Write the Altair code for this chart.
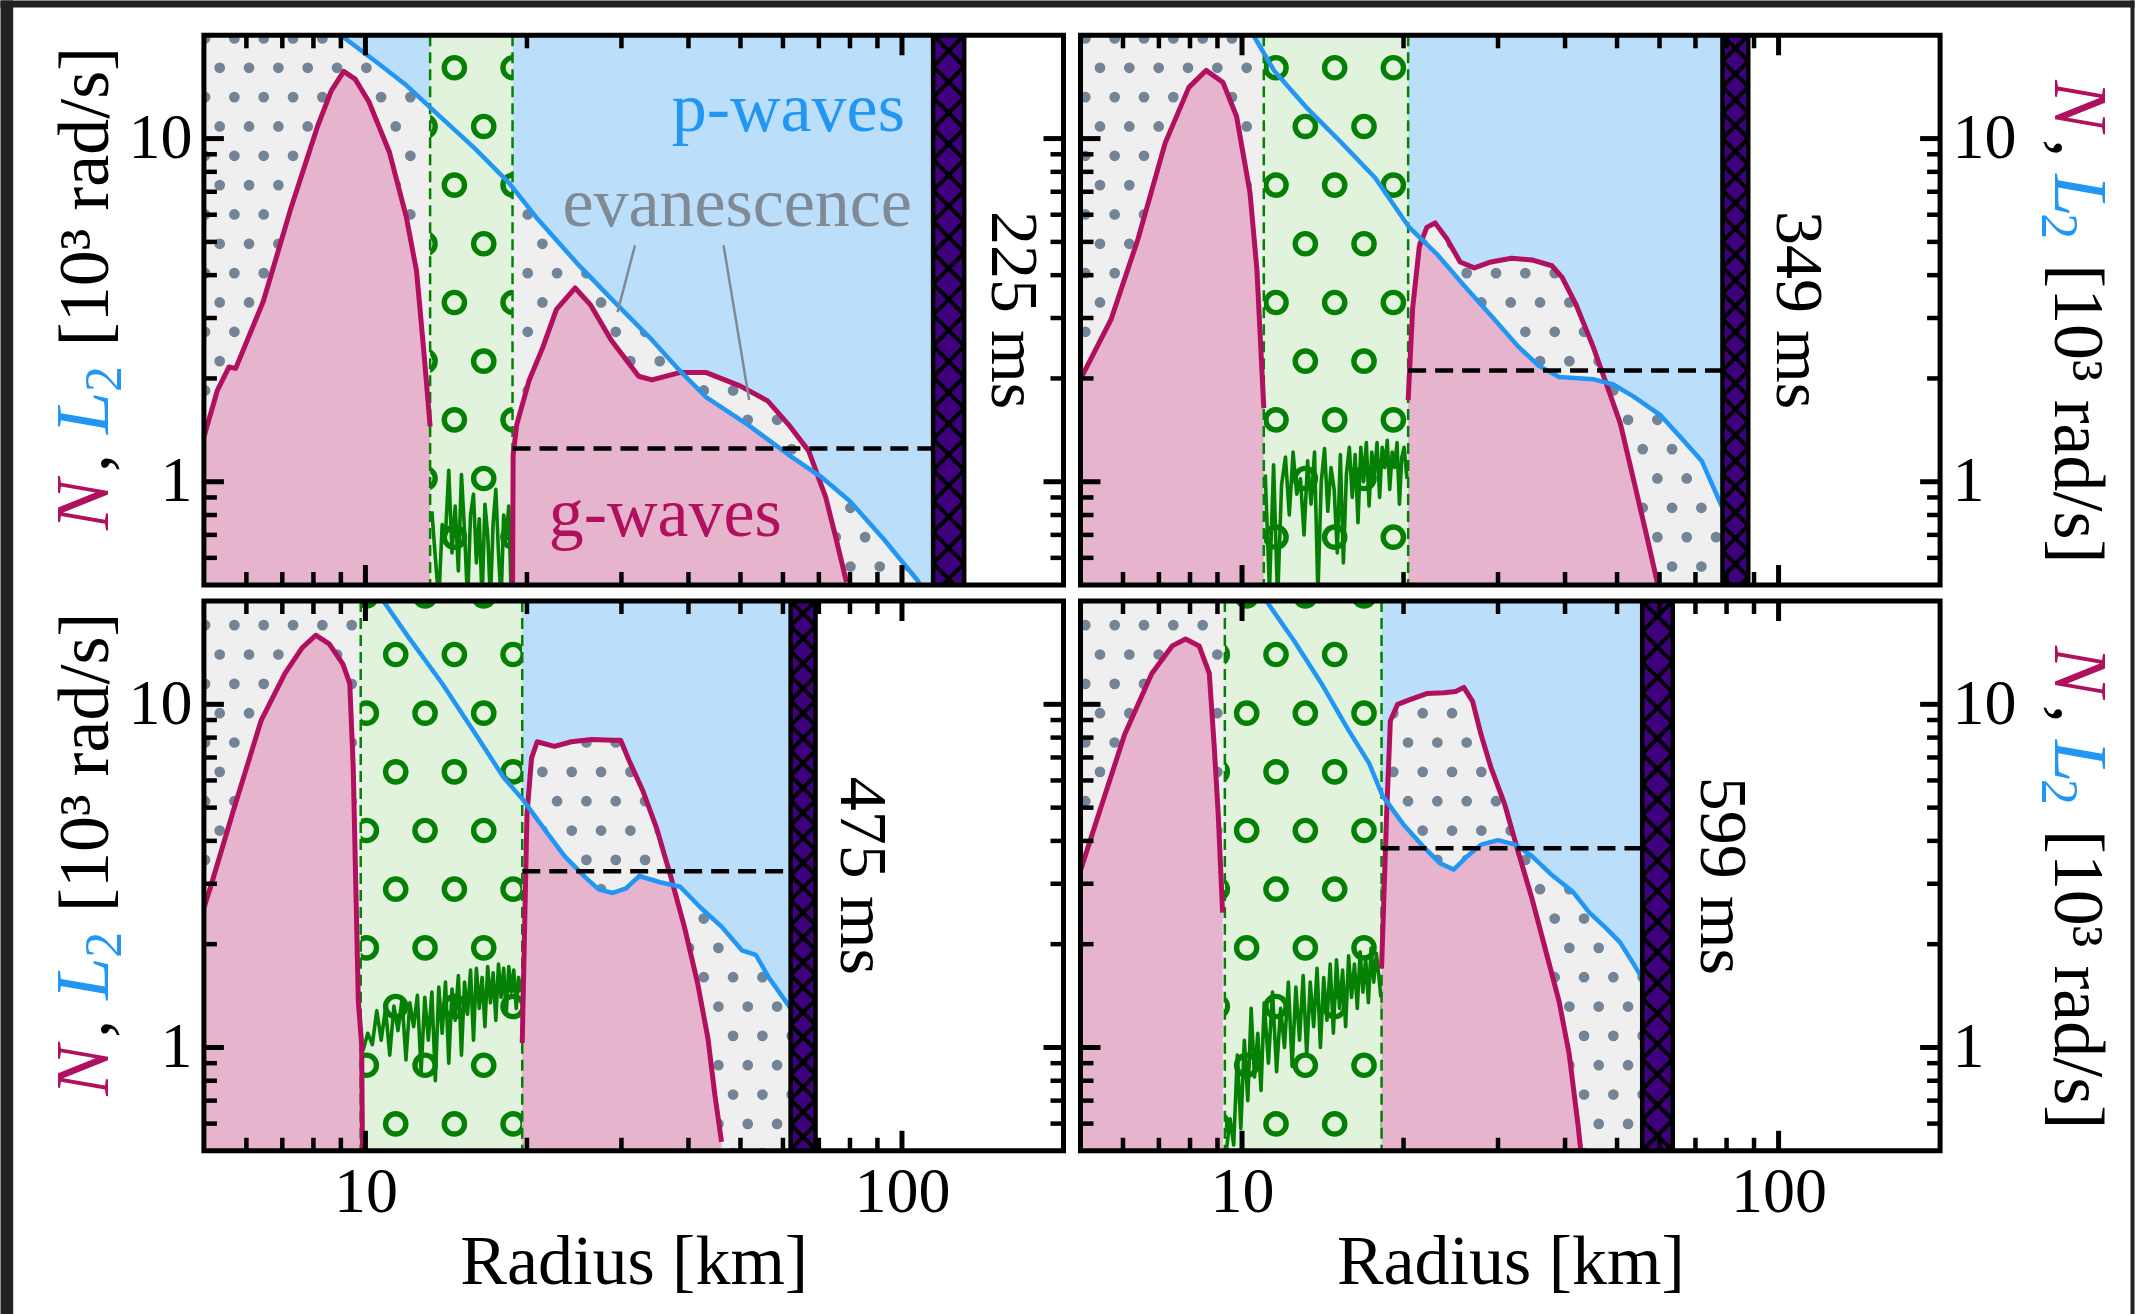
import altair as alt
import numpy as np
import pandas as pd

alt.data_transformers.disable_max_rows()

FONT = "Liberation Serif"
W, H = 860, 550
X_MIN, X_MAX = 5.0, 200.0
Y_MIN, Y_MAX = 0.5, 20.0
LX0, LX1 = np.log10(X_MIN), np.log10(X_MAX)
LY0, LY1 = np.log10(Y_MIN), np.log10(Y_MAX)
PANEL_ORIGIN = [(203.5, 34.8), (1080.3, 34.8), (203.5, 600.8), (1080.3, 600.8)]

C_N = "#b0105e"
C_L = "#2196f3"
C_PINK = "#e6b4cc"
C_BLUE = "#bbdefb"
C_GRAY = "#efefef"
C_DOT = "#738497"
C_GREEN = "#058005"
C_GREENFILL = "#e2f3dd"
C_SHOCK = "#3f007d"
C_EVA = "#7f8a94"

# ---------------- data ----------------
time_labels = ["225 ms", "349 ms", "475 ms", "599 ms"]
time_x = [160, 108, 84, 78]
band_left = [13.2, 10.98, 9.80, 9.29]
band_right = [18.8, 20.4, 19.6, 18.2]
shock_left = [114.3, 78.6, 62.0, 55.7]
shock_right = [130.6, 87.8, 69.0, 63.5]
dash_level = [1.25, 2.11, 3.26, 3.81]

# Brunt-Vaisala frequency N, inner segment (left of convective band)
n_in_x = [
    [5.0, 5.3, 5.57, 5.73, 6.45, 7.25, 8.15, 8.64, 9.11, 9.57, 10.15, 11.08, 11.92, 12.45, 12.83, 13.2],
    [5.0, 5.70, 6.40, 7.19, 7.96, 8.57, 9.21, 9.77, 10.35, 10.66, 10.98],
    [5.0, 5.16, 5.68, 6.39, 7.08, 7.62, 8.08, 8.56, 9.08, 9.35, 9.49, 9.70, 9.84, 9.88],
    [5.0, 5.37, 6.04, 6.79, 7.41, 7.85, 8.32, 8.69, 8.87, 9.03, 9.20],
]
n_in_y = [
    [1.35, 1.85, 2.16, 2.14, 3.35, 6.21, 10.9, 13.8, 15.7, 14.9, 12.8, 9.14, 5.9, 4.12, 2.46, 1.45],
    [1.99, 2.97, 5.10, 9.70, 14.1, 15.8, 14.6, 11.6, 6.94, 4.15, 1.64],
    [2.55, 2.98, 4.93, 8.96, 12.3, 14.6, 15.9, 15.0, 13.1, 11.5, 6.55, 1.36, 1.02, 0.45],
    [3.28, 4.63, 8.15, 12.3, 14.8, 15.5, 14.8, 12.3, 7.66, 4.78, 2.47],
]
# N, outer segment (right of convective band)
n_out_x = [
    [18.8, 18.85, 19.15, 20.2, 21.4, 22.7, 24.6, 26.3, 28.7, 32.3, 34.2, 38.5, 43.2, 50.0, 56.2, 61.4, 67.0, 72.1, 75.4, 78.8],
    [20.4, 20.8, 21.4, 22.1, 22.9, 24.1, 25.5, 27.1, 29.1, 31.8, 34.7, 37.8, 39.5, 41.9, 45.1, 47.8, 50.7, 53.7, 56.9, 59.5],
    [19.6, 20.0, 20.4, 20.9, 22.5, 24.2, 26.4, 28.9, 29.9, 31.0, 32.9, 34.9, 37.0, 39.3, 41.6, 43.5, 44.8, 46.1],
    [18.2, 18.6, 18.9, 19.5, 20.5, 22.1, 23.8, 25.0, 25.9, 26.9, 27.9, 29.1, 30.9, 32.7, 34.7, 36.8, 39.0, 40.7, 42.3, 42.8],
]
n_out_y = [
    [0.45, 1.2, 1.47, 1.98, 2.46, 3.18, 3.67, 3.27, 2.59, 2.03, 1.98, 2.08, 2.08, 1.90, 1.72, 1.47, 1.23, 0.90, 0.68, 0.51],
    [1.73, 3.21, 4.84, 5.51, 5.68, 5.10, 4.37, 4.20, 4.37, 4.48, 4.43, 4.26, 3.94, 3.29, 2.48, 1.92, 1.48, 1.01, 0.686, 0.504],
    [1.03, 4.78, 6.97, 7.78, 7.54, 7.78, 7.90, 7.86, 7.86, 6.86, 5.59, 4.35, 3.18, 2.25, 1.54, 1.06, 0.727, 0.531],
    [1.70, 4.78, 8.96, 10.0, 10.3, 10.75, 10.8, 10.9, 11.2, 10.2, 8.15, 6.55, 5.09, 3.72, 2.72, 1.92, 1.36, 0.96, 0.593, 0.50],
]
# Lamb frequency L2
l2_x = [
    [9.0, 10.6, 11.92, 13.0, 15.97, 18.5, 20.8, 24.8, 29.5, 34.2, 38.5, 43.2, 51.5, 61.4, 71.1, 79.9, 92.5, 107.2, 112.0],
    [10.5, 11.47, 13.26, 15.35, 17.7, 20.5, 23.1, 25.9, 29.1, 32.7, 35.7, 39.0, 45.1, 49.2, 53.7, 60.3, 65.9, 71.9, 78.6],
    [10.8, 11.99, 13.9, 16.07, 18.06, 19.7, 21.5, 23.5, 25.7, 27.2, 28.9, 30.6, 32.4, 35.4, 38.6, 42.2, 46.1, 50.3, 53.4, 56.6, 62.0],
    [11.1, 12.51, 14.06, 15.79, 17.24, 18.27, 19.94, 21.8, 23.4, 24.8, 26.3, 27.9, 30.0, 32.3, 34.7, 37.8, 41.3, 44.4, 47.8, 50.7, 53.7, 55.7],
]
l2_y = [
    [20.0, 16.5, 14.3, 12.6, 9.38, 7.44, 5.9, 4.33, 3.27, 2.59, 2.11, 1.76, 1.47, 1.20, 1.026, 0.879, 0.68, 0.513, 0.45],
    [20.0, 15.8, 12.2, 9.70, 7.69, 5.51, 4.60, 3.74, 3.05, 2.48, 2.18, 2.02, 1.99, 1.92, 1.77, 1.56, 1.34, 1.15, 0.84],
    [20.0, 15.8, 11.5, 8.15, 6.15, 5.25, 4.35, 3.61, 3.13, 2.89, 2.82, 2.91, 3.16, 3.03, 2.94, 2.55, 2.25, 1.92, 1.86, 1.59, 1.30],
    [20.0, 15.3, 11.5, 8.41, 6.75, 5.42, 4.49, 3.84, 3.44, 3.30, 3.61, 3.90, 4.02, 3.90, 3.61, 3.18, 2.85, 2.47, 2.22, 2.02, 1.75, 1.59],
]
# noisy curve inside the convective band
conv_x = [
    [13.3, 13.5, 13.7, 13.9, 14.1, 14.3, 14.5, 14.7, 14.9, 15.1, 15.3, 15.5, 15.7, 15.9, 16.1, 16.3, 16.5, 16.7, 16.9, 17.1, 17.3, 17.5, 17.7, 17.9, 18.1, 18.3, 18.5, 18.7],
    [11.05, 11.25, 11.45, 11.65, 11.85, 12.05, 12.25, 12.45, 12.65, 12.85, 13.05, 13.25, 13.45, 13.65, 13.85, 14.05, 14.25, 14.45, 14.65, 14.85, 15.05, 15.25, 15.45, 15.65, 15.85, 16.05, 16.25, 16.45, 16.65, 16.85, 17.05, 17.25, 17.45, 17.65, 17.85, 18.05, 18.25, 18.45, 18.65, 18.85, 19.05, 19.25, 19.45, 19.65, 19.85, 20.05, 20.3],
    [9.9, 10.1, 10.3, 10.5, 10.7, 10.9, 11.1, 11.3, 11.5, 11.7, 11.9, 12.1, 12.3, 12.5, 12.7, 12.9, 13.1, 13.3, 13.5, 13.7, 13.9, 14.1, 14.3, 14.5, 14.7, 14.9, 15.1, 15.3, 15.5, 15.7, 15.9, 16.1, 16.3, 16.5, 16.7, 16.9, 17.1, 17.3, 17.5, 17.7, 17.9, 18.1, 18.3, 18.5, 18.7, 18.9, 19.1, 19.3, 19.5],
    [9.35, 9.5, 9.65, 9.8, 9.95, 10.1, 10.25, 10.4, 10.55, 10.7, 10.85, 11.0, 11.2, 11.4, 11.6, 11.8, 12.0, 12.2, 12.4, 12.6, 12.8, 13.0, 13.2, 13.4, 13.6, 13.8, 14.0, 14.2, 14.4, 14.6, 14.8, 15.0, 15.2, 15.4, 15.6, 15.8, 16.0, 16.2, 16.4, 16.6, 16.8, 17.0, 17.2, 17.4, 17.6, 17.8, 18.0, 18.15],
]
conv_y = [
    [0.82, 0.60, 0.45, 0.75, 0.70, 1.08, 0.62, 0.85, 0.55, 1.05, 0.72, 0.45, 0.80, 0.92, 0.58, 0.78, 0.45, 0.86, 0.70, 0.45, 0.76, 0.95, 0.62, 0.45, 0.80, 0.68, 0.85, 0.45],
    [1.05, 0.48, 1.12, 0.45, 0.98, 1.18, 0.80, 1.22, 0.92, 1.02, 0.70, 1.15, 0.86, 1.22, 0.47, 1.00, 1.25, 0.82, 1.10, 0.95, 0.62, 1.20, 0.58, 1.05, 1.26, 0.90, 1.20, 0.76, 1.26, 1.00, 1.30, 0.85, 1.22, 1.05, 1.30, 0.90, 1.26, 1.10, 1.32, 0.95, 1.22, 1.10, 1.30, 0.86, 1.18, 1.26, 1.02],
    [0.98, 1.10, 1.02, 1.28, 1.05, 1.30, 0.95, 1.32, 1.12, 1.38, 0.92, 1.35, 1.15, 1.42, 0.85, 1.40, 1.05, 1.45, 0.80, 1.50, 1.10, 1.55, 0.90, 1.48, 1.20, 1.62, 0.95, 1.55, 1.25, 1.68, 1.05, 1.70, 1.30, 1.60, 1.15, 1.72, 1.35, 1.65, 1.20, 1.75, 1.40, 1.70, 1.25, 1.72, 1.45, 1.68, 1.30, 1.60, 1.45],
    [0.50, 0.62, 0.52, 0.95, 0.58, 1.05, 0.70, 1.30, 0.82, 1.10, 0.75, 1.35, 0.90, 1.45, 0.85, 1.30, 1.00, 1.55, 0.88, 1.50, 1.05, 1.62, 0.95, 1.55, 1.15, 1.70, 1.00, 1.60, 1.20, 1.75, 1.10, 1.80, 1.30, 1.68, 1.15, 1.85, 1.40, 1.75, 1.30, 1.90, 1.45, 1.82, 1.35, 1.95, 1.55, 1.88, 1.60, 1.40],
]

x_major = [10, 100]
x_minor = [6, 7, 8, 9, 20, 30, 40, 50, 60, 70, 80, 90]
y_major = [1, 10]
y_minor = [0.6, 0.7, 0.8, 0.9, 2, 3, 4, 5, 6, 7, 8, 9]

# annotations of the first panel
ann_text = ["p-waves", "evanescence", "g-waves"]
ann_x = [61.4, 49.3, 36.2]
ann_y = [10.55, 5.55, 0.695]
ann_color = [C_L, C_EVA, C_N]
pointer_x0 = [31.8, 46.5]
pointer_y0 = [4.89, 4.89]
pointer_x1 = [29.5, 51.9]
pointer_y1 = [3.12, 1.73]

# hatch texture (matplotlib-like lattice, global pixel anchor)
HATCH_ORIGIN = (454.1, 67.3)
DOT_STEP = 29.35
CIRC_STEP = 58.7


def px_to_x(px):
    return 10 ** (LX0 + np.asarray(px) / W * (LX1 - LX0))


def px_to_y(py):
    return 10 ** (LY1 - np.asarray(py) / H * (LY1 - LY0))


def x_to_px(x):
    return (np.log10(x) - LX0) / (LX1 - LX0) * W


def lattice(step, ox, oy):
    gx0, gy0 = HATCH_ORIGIN
    pts = []
    j0 = int(np.floor((oy - 30 - gy0) / step))
    j1 = int(np.ceil((oy + H + 30 - gy0) / step))
    for j in range(j0, j1 + 1):
        off = step / 2 if j % 2 else 0.0
        gy = gy0 + j * step
        i0 = int(np.floor((ox - 30 - gx0 - off) / step))
        i1 = int(np.ceil((ox + W + 30 - gx0 - off) / step))
        for i in range(i0, i1 + 1):
            pts.append((gx0 + off + i * step - ox, gy - oy))
    return np.array(pts)


def bounds(x0, x1, nx, ny, lx, ly, n_left, n_right, l_left, l_right):
    extra = [v for v in list(nx) + list(lx) if x0 < v < x1]
    grid = np.unique(np.concatenate([np.geomspace(x0, x1, 500), extra]))
    g = np.log10(grid)
    nv = np.interp(g, np.log10(nx), np.log10(ny), left=n_left, right=n_right)
    lv = np.interp(g, np.log10(lx), np.log10(ly), left=l_left, right=l_right)
    lo = np.clip(np.minimum(nv, lv), LY0, LY1)
    hi = np.clip(np.maximum(nv, lv), LY0, LY1)
    return pd.DataFrame({"x": grid, "lo": 10 ** lo, "hi": 10 ** hi,
                         "bot": Y_MIN, "top": Y_MAX})


one = pd.DataFrame({"a": [0]})
xscale = alt.Scale(type="log", domain=[X_MIN, X_MAX], nice=False)
yscale = alt.Scale(type="log", domain=[Y_MIN, Y_MAX], nice=False)

panels = []
for p in range(4):
    ox, oy = PANEL_ORIGIN[p]
    is_left = p % 2 == 0
    is_bottom = p >= 2
    if is_bottom:
        xaxis = alt.Axis(values=x_major, format="d", title="Radius [km]",
                         labelFont=FONT, labelFontSize=64, labelColor="black",
                         labelPadding=10, ticks=False, tickSize=0, domain=False,
                         grid=False, labelFlush=False, titleFont=FONT,
                         titleFontSize=70, titleFontWeight="normal",
                         titleColor="black", titlePadding=4)
    else:
        xaxis = None
    yaxis = alt.Axis(orient="left" if is_left else "right", values=y_major,
                     format="d", title=None, labelFont=FONT, labelFontSize=64,
                     labelColor="black", labelPadding=12, ticks=False,
                     tickSize=0, domain=False, grid=False, labelFlush=False)

    def X(f):
        return alt.X(f, type="quantitative", scale=xscale, axis=xaxis)

    def Y(f):
        return alt.Y(f, type="quantitative", scale=yscale, axis=yaxis)

    bl, br = band_left[p], band_right[p]
    sl, sr = shock_left[p], shock_right[p]
    layers = []

    if p == 0:
        for (a, b, c, d) in [(-ox, -ox + 12.7, -oy, 1314 - oy),
                             (-ox, 2135 - ox, -oy, 7 - oy),
                             (2131 - ox, 2135 - ox, -oy, 1314 - oy)]:
            layers.append(alt.Chart(one).mark_rect(color="#212121").encode(
                x=alt.value(a), x2=alt.value(b), y=alt.value(c), y2=alt.value(d)))

    # convective band
    band_df = pd.DataFrame({"x0": [bl], "x1": [br]})
    layers.append(alt.Chart(band_df).mark_rect(color=C_GREENFILL).encode(
        x=X("x0"), x2=alt.X2("x1"), y=alt.value(0), y2=alt.value(H)))
    cp = lattice(CIRC_STEP, ox, oy)
    blp, brp = x_to_px(bl), x_to_px(br)
    cp = cp[(cp[:, 0] > blp - 14) & (cp[:, 0] < brp + 14)]
    circ_df = pd.DataFrame({"x": px_to_x(cp[:, 0]), "y": px_to_y(cp[:, 1])})
    layers.append(alt.Chart(circ_df).mark_point(
        shape="circle", filled=False, size=410, strokeWidth=5.4,
        color=C_GREEN, opacity=1, clip=True).encode(x=X("x"), y=Y("y")))

    # evanescent (grey, dotted) background
    gray_df = pd.DataFrame({"x0": [X_MIN, br], "x1": [bl, sl]})
    layers.append(alt.Chart(gray_df).mark_rect(color=C_GRAY).encode(
        x=X("x0"), x2=alt.X2("x1"), y=alt.value(0), y2=alt.value(H)))
    dp = lattice(DOT_STEP, ox, oy)
    slp = x_to_px(sl)
    r = 5.5
    keep = (dp[:, 0] < slp + 6) & ((dp[:, 0] < blp - r) | (dp[:, 0] > brp + r))
    dp = dp[keep]
    dot_df = pd.DataFrame({"x": px_to_x(dp[:, 0]), "y": px_to_y(dp[:, 1])})
    layers.append(alt.Chart(dot_df).mark_circle(
        size=115, color=C_DOT, opacity=1, clip=True).encode(x=X("x"), y=Y("y")))

    # g-wave (pink) and p-wave (blue) regions
    BIG = 10.0
    seg_in = bounds(X_MIN, bl, n_in_x[p], n_in_y[p], l2_x[p], l2_y[p],
                    -BIG, -BIG, BIG, -BIG)
    seg_out = bounds(br, sl, n_out_x[p], n_out_y[p], l2_x[p], l2_y[p],
                     -BIG, -BIG, BIG, -BIG)
    for seg in (seg_in, seg_out):
        layers.append(alt.Chart(seg).mark_area(color=C_PINK, clip=True).encode(
            x=X("x"), y=Y("lo"), y2=alt.Y2("bot")))
        layers.append(alt.Chart(seg).mark_area(color=C_BLUE, clip=True).encode(
            x=X("x"), y=Y("hi"), y2=alt.Y2("top")))

    # band edges and noisy curve
    layers.append(alt.Chart(pd.DataFrame({"x": [bl, br]})).mark_rule(
        color=C_GREEN, strokeWidth=2.5, strokeDash=[11, 6]).encode(
        x=X("x"), y=alt.value(0), y2=alt.value(H)))
    conv_df = pd.DataFrame({"x": conv_x[p], "y": conv_y[p]})
    layers.append(alt.Chart(conv_df).mark_line(
        color=C_GREEN, strokeWidth=3.6, strokeJoin="round", clip=True).encode(
        x=X("x"), y=Y("y")))

    # N and L2 curves
    for xs_, ys_ in ((n_in_x[p], n_in_y[p]), (n_out_x[p], n_out_y[p])):
        layers.append(alt.Chart(pd.DataFrame({"x": xs_, "y": ys_})).mark_line(
            color=C_N, strokeWidth=5, strokeJoin="round", clip=True).encode(
            x=X("x"), y=Y("y")))
    layers.append(alt.Chart(pd.DataFrame({"x": l2_x[p], "y": l2_y[p]})).mark_line(
        color=C_L, strokeWidth=4.5, strokeJoin="round", clip=True).encode(
        x=X("x"), y=Y("y")))

    # dashed frequency level
    layers.append(alt.Chart(pd.DataFrame({"x0": [br], "x1": [sl], "y": [dash_level[p]]}))
                  .mark_rule(color="black", strokeWidth=4.5, strokeDash=[18, 9]).encode(
        x=X("x0"), x2=alt.X2("x1"), y=Y("y")))

    # shock
    layers.append(alt.Chart(pd.DataFrame({"x0": [sl], "x1": [sr]})).mark_rect(
        color=C_SHOCK).encode(x=X("x0"), x2=alt.X2("x1"), y=alt.value(0), y2=alt.value(H)))
    wpx = x_to_px(sr) - x_to_px(sl)
    ks = np.arange(-2, int(H / wpx) + 3)
    yk0 = ks * wpx
    yk1 = yk0 + wpx
    hatch_df = pd.DataFrame({
        "x0": [sl] * len(ks) + [sr] * len(ks),
        "x1": [sr] * len(ks) + [sl] * len(ks),
        "y0": list(px_to_y(yk0)) * 2,
        "y1": list(px_to_y(yk1)) * 2,
    })
    layers.append(alt.Chart(hatch_df).mark_rule(color="black", strokeWidth=4, clip=True).encode(
        x=X("x0"), x2=alt.X2("x1"), y=Y("y0"), y2=alt.Y2("y1")))
    layers.append(alt.Chart(pd.DataFrame({"x": [sl, sr]})).mark_rule(
        color="black", strokeWidth=4.5).encode(x=X("x"), y=alt.value(0), y2=alt.value(H)))

    # time label
    layers.append(alt.Chart(pd.DataFrame({"x": [time_x[p]], "t": [time_labels[p]]})).mark_text(
        angle=90, font=FONT, fontSize=68, color="black", align="center", baseline="middle").encode(
        x=X("x"), y=alt.value(H / 2), text="t:N"))

    # inward ticks on all four sides
    for vals, L, sw in ((x_major, 20, 5), (x_minor, 13, 4.5)):
        tdf = pd.DataFrame({"v": vals})
        layers.append(alt.Chart(tdf).mark_rule(color="black", strokeWidth=sw).encode(
            x=X("v"), y=alt.value(H), y2=alt.value(H - L)))
        layers.append(alt.Chart(tdf).mark_rule(color="black", strokeWidth=sw).encode(
            x=X("v"), y=alt.value(0), y2=alt.value(L)))
    for vals, L, sw in ((y_major, 20, 5), (y_minor, 13, 4.5)):
        tdf = pd.DataFrame({"v": vals})
        layers.append(alt.Chart(tdf).mark_rule(color="black", strokeWidth=sw).encode(
            y=Y("v"), x=alt.value(0), x2=alt.value(L)))
        layers.append(alt.Chart(tdf).mark_rule(color="black", strokeWidth=sw).encode(
            y=Y("v"), x=alt.value(W), x2=alt.value(W - L)))

    # frame
    layers.append(alt.Chart(one).mark_rect(fillOpacity=0, stroke="black", strokeWidth=5).encode(
        x=alt.value(0), x2=alt.value(W), y=alt.value(0), y2=alt.value(H)))

    # multi-coloured y-axis title
    if is_left:
        ang, bx, sub_dx = 270, -96, 13
        pieces = [("N", 495, C_N, "italic", 76), (",", 437, "black", "normal", 72),
                  ("L", 399, C_L, "italic", 76), ("2", 357, C_L, "normal", 52),
                  ("[10³ rad/s]", 311, "black", "normal", 72)]
    else:
        ang, bx, sub_dx = 90, 975, -13
        pieces = [("N", 45, C_N, "italic", 76), (",", 104, "black", "normal", 72),
                  ("L", 139, C_L, "italic", 76), ("2", 178, C_L, "normal", 52),
                  ("[10³ rad/s]", 229, "black", "normal", 72)]
    for txt, ypos, col, style, fs in pieces:
        xpos = bx + (sub_dx if txt == "2" else 0)
        layers.append(alt.Chart(pd.DataFrame({"t": [txt]})).mark_text(
            angle=ang, font=FONT, fontSize=fs, fontStyle=style, color=col,
            align="left", baseline="alphabetic").encode(
            x=alt.value(xpos), y=alt.value(ypos), text="t:N"))

    if p == 0:
        pdf = pd.DataFrame({"x0": pointer_x0, "y0": pointer_y0,
                            "x1": pointer_x1, "y1": pointer_y1})
        layers.append(alt.Chart(pdf).mark_rule(color=C_EVA, strokeWidth=2.5).encode(
            x=X("x0"), x2=alt.X2("x1"), y=Y("y0"), y2=alt.Y2("y1")))
        for t, ax_, ay_, ac in zip(ann_text, ann_x, ann_y, ann_color):
            layers.append(alt.Chart(pd.DataFrame({"x": [ax_], "y": [ay_], "t": [t]})).mark_text(
                font=FONT, fontSize=70, color=ac, align="center", baseline="alphabetic").encode(
                x=X("x"), y=Y("y"), text="t:N"))

    panels.append(alt.layer(*layers).properties(width=W, height=H))

chart = alt.concat(
    *panels, columns=2, spacing=alt.RowColnumber(row=16, column=17), bounds="flush"
).properties(padding=0, background="white").configure_view(strokeWidth=0)

chart.save("out.html", embed_options={"renderer": "svg", "actions": False})
